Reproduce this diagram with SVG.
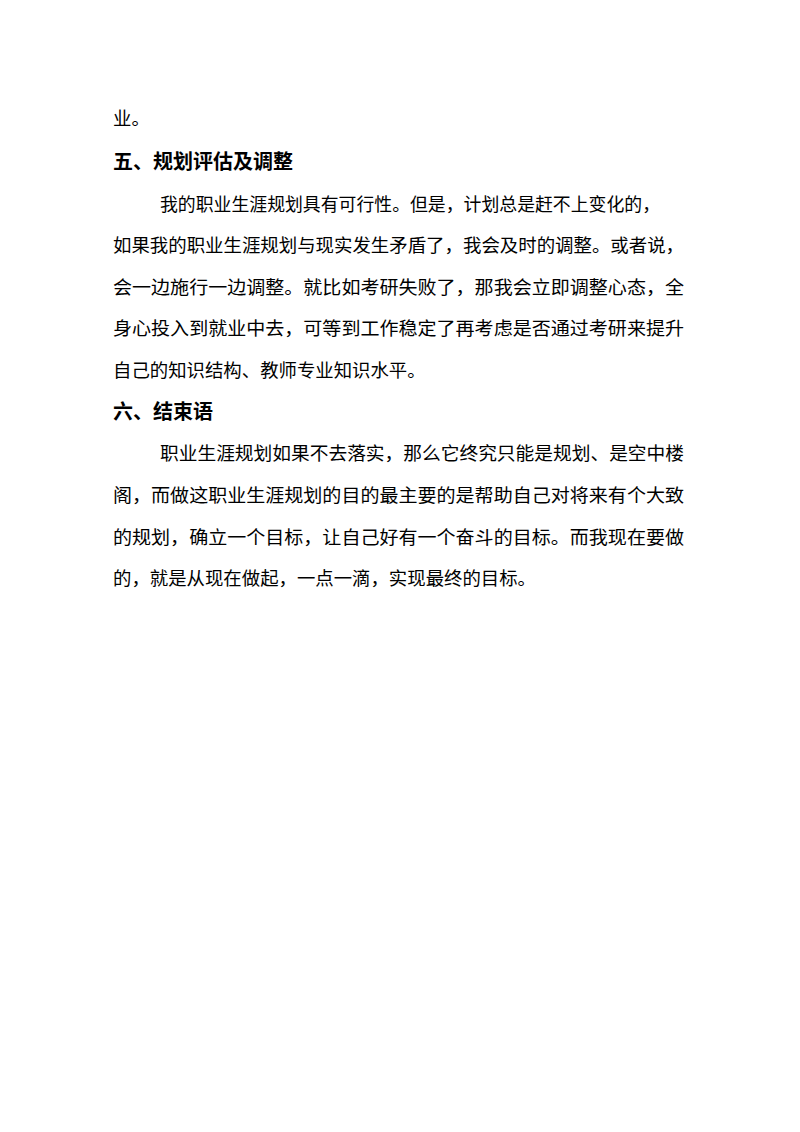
<svg xmlns="http://www.w3.org/2000/svg" width="800" height="1132" viewBox="0 0 800 1132">
<style>
.b{font-family:"Liberation Serif","Noto Sans CJK SC",serif;font-size:18.4px;fill:#000}
.h{font-family:"Liberation Serif","Noto Sans CJK SC",sans-serif;font-size:20px;font-weight:bold;fill:#000}
</style>
<rect width="800" height="1132" fill="#fff"/>
<text class="b" x="113" y="125">业。</text>
<text class="h" x="113" y="169">五、规划评估及调整</text>
<text class="b" x="160" y="211" textLength="500" lengthAdjust="spacingAndGlyphs">我的职业生涯规划具有可行性。但是，计划总是赶不上变化的，</text>
<text class="b" x="113" y="252" textLength="571" lengthAdjust="spacingAndGlyphs">如果我的职业生涯规划与现实发生矛盾了，我会及时的调整。或者说，</text>
<text class="b" x="113" y="294" textLength="571" lengthAdjust="spacingAndGlyphs">会一边施行一边调整。就比如考研失败了，那我会立即调整心态，全</text>
<text class="b" x="113" y="335" textLength="571" lengthAdjust="spacingAndGlyphs">身心投入到就业中去，可等到工作稳定了再考虑是否通过考研来提升</text>
<text class="b" x="113" y="377">自己的知识结构、教师专业知识水平。</text>
<text class="h" x="113" y="419">六、结束语</text>
<text class="b" x="160" y="460" textLength="524" lengthAdjust="spacingAndGlyphs">职业生涯规划如果不去落实，那么它终究只能是规划、是空中楼</text>
<text class="b" x="113" y="502" textLength="571" lengthAdjust="spacingAndGlyphs">阁，而做这职业生涯规划的目的最主要的是帮助自己对将来有个大致</text>
<text class="b" x="113" y="544" textLength="571" lengthAdjust="spacingAndGlyphs">的规划，确立一个目标，让自己好有一个奋斗的目标。而我现在要做</text>
<text class="b" x="113" y="585">的，就是从现在做起，一点一滴，实现最终的目标。</text>
</svg>
